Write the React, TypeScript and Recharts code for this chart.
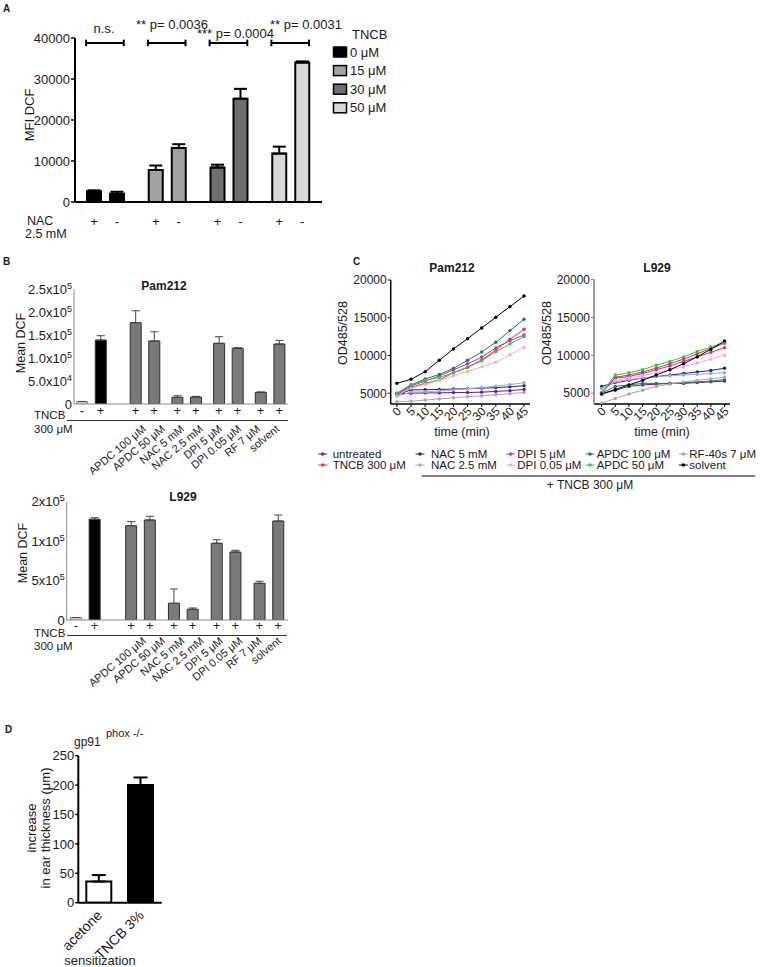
import React from 'react';
import { BarChart, Bar, XAxis, YAxis, ErrorBar, Cell, LabelList, ReferenceLine, LineChart, Line } from 'recharts';

const FONT = '"Liberation Sans", Arial, Helvetica, sans-serif';
const INK = '#1a1a1a';

// ---------------- Panel A ----------------
const aConcs = ['0 μM', '15 μM', '30 μM', '50 μM'];
const aNacPlus = [2600, 7800, 8400, 11800];
const aNacPlusErr = [250, 1100, 700, 1700];
const aNacMinus = [2000, 13200, 25200, 34000];
const aNacMinusErr = [500, 900, 2400, 300];
const aSigns = ['+', '-'];
const aPLabels = ['n.s.', '** p= 0.0036', '*** p= 0.0004', '** p= 0.0031'];
const aYTicks = [0, 10000, 20000, 30000, 40000];
const aFill = ['#000000', '#a2a2a2', '#6f6f6f', '#d8d8d8'];

// ---------------- Panel B ----------------
const bConditions = ['untreated', 'TNCB 300 μM', 'APDC 100 μM', 'APDC 50 μM', 'NAC 5 mM', 'NAC 2.5 mM', 'DPI 5 μM', 'DPI 0.05 μM', 'RF 7 μM', 'solvent'];
const bSigns = ['-', '+', '+', '+', '+', '+', '+', '+', '+', '+'];
const bAxisNames = ['APDC 100 μM', 'APDC 50 μM', 'NAC 5 mM', 'NAC 2.5 mM', 'DPI 5 μM', 'DPI 0.05 μM', 'RF 7 μM', 'solvent'];
const bPamMean = [5000, 139000, 176700, 137000, 14500, 15200, 131900, 121000, 25400, 130400];
const bPamErr = [600, 9500, 26000, 20000, 3500, 1500, 14400, 1500, 700, 8000];
const bPamTicks = [0, 50000, 100000, 150000, 200000, 250000];
const bPamTickLabels = ['0', '5.0x10^4', '1.0x10^5', '1.5x10^5', '2.0x10^5', '2.5x10^5'];
const bL929Mean = [3000, 127700, 119600, 126800, 21200, 13600, 97300, 86200, 46500, 125500];
const bL929Err = [0, 2000, 5100, 4700, 18100, 1600, 4500, 2200, 2600, 7600];
const bL929Ticks = [0, 50000, 100000, 150000];
const bL929TickLabels = ['0', '5x10^5', '1x10^5', '2x10^5'];

// ---------------- Panel C ----------------
const cTimes = [0, 5, 10, 15, 20, 25, 30, 35, 40, 45];
const pamUntreated = [4900, 5000, 5050, 5050, 5100, 5100, 5150, 5250, 5350, 5500];
const pamTncb = [4900, 5800, 6320, 6760, 7730, 8440, 9400, 10730, 12150, 13470];
const pamNac5 = [4800, 5440, 5480, 5500, 5560, 5620, 5680, 5750, 5850, 6000];
const pamNac25 = [4600, 5150, 5200, 5300, 5450, 5600, 5750, 5950, 6150, 6400];
const pamDpi5 = [4800, 6000, 6600, 7300, 8100, 8900, 9800, 11000, 11970, 12720];
const pamDpi005 = [4700, 5700, 6200, 6700, 7300, 7900, 8500, 9100, 10070, 11090];
const pamApdc100 = [5000, 6100, 6900, 7500, 8300, 9370, 10470, 11750, 13300, 14800];
const pamApdc50 = [5000, 6150, 6700, 7100, 7700, 8400, 9300, 10500, 11530, 12500];
const pamRf = [3900, 3950, 4100, 4250, 4400, 4550, 4650, 4800, 4950, 5100];
const pamSolvent = [6320, 6850, 7860, 9370, 10870, 12230, 13650, 15060, 16470, 17880];

const l929Untreated = [4900, 5400, 5900, 6100, 6200, 6300, 6300, 6400, 6500, 6600];
const l929Tncb = [5000, 7100, 7400, 7800, 8300, 8900, 9500, 10200, 10900, 11600];
const l929Nac5 = [5900, 6400, 6700, 7000, 7200, 7400, 7600, 7800, 8000, 8300];
const l929Nac25 = [5600, 6500, 6800, 7000, 7200, 7300, 7400, 7500, 7600, 7700];
const l929Dpi5 = [5000, 7000, 7200, 7600, 8100, 8600, 9200, 9800, 10400, 11000];
const l929Dpi005 = [5100, 6700, 7000, 7300, 7700, 8100, 8500, 9000, 9500, 10000];
const l929Apdc100 = [5000, 5900, 6100, 6300, 6300, 6300, 6400, 6500, 6600, 6800];
const l929Apdc50 = [5100, 7400, 7700, 8100, 8700, 9200, 9800, 10500, 11100, 11700];
const l929Rf = [3700, 4300, 4900, 5400, 5900, 6200, 6500, 6700, 6900, 7100];
const l929Solvent = [4900, 5500, 6100, 6700, 7400, 8100, 8900, 9800, 10800, 11900];
const cYTicks = [5000, 10000, 15000, 20000];

const cSeries = [
  { key: 'untreated', name: 'untreated', pam: pamUntreated, l929: l929Untreated },
  { key: 'tncb', name: 'TNCB 300 μM', pam: pamTncb, l929: l929Tncb },
  { key: 'nac5', name: 'NAC 5 mM', pam: pamNac5, l929: l929Nac5 },
  { key: 'nac25', name: 'NAC 2.5 mM', pam: pamNac25, l929: l929Nac25 },
  { key: 'dpi5', name: 'DPI 5 μM', pam: pamDpi5, l929: l929Dpi5 },
  { key: 'dpi005', name: 'DPI 0.05 μM', pam: pamDpi005, l929: l929Dpi005 },
  { key: 'apdc100', name: 'APDC 100 μM', pam: pamApdc100, l929: l929Apdc100 },
  { key: 'apdc50', name: 'APDC 50 μM', pam: pamApdc50, l929: l929Apdc50 },
  { key: 'rf', name: 'RF-40s 7 μM', pam: pamRf, l929: l929Rf },
  { key: 'solvent', name: 'solvent', pam: pamSolvent, l929: l929Solvent },
];
const cColors = {
  untreated: '#6a1b8a', tncb: '#e8302f', nac5: '#1c2a80', nac25: '#9aa6f2', dpi5: '#c42ac4',
  dpi005: '#f5a9d9', apdc100: '#1f7a5c', apdc50: '#2ec83c', rf: '#a8a8a8', solvent: '#000000',
};

// ---------------- Panel D ----------------
const dGroups = ['acetone', 'TNCB 3%'];
const dMeans = [36, 200];
const dErrs = [11, 13];
const dYTicks = [0, 50, 100, 150, 200, 250];

// ---------------- tables ----------------
const aData = aConcs.map((c, i) => ({
  conc: c,
  gx: i + 0.5,
  plus: aNacPlus[i], plusErr: [0, aNacPlusErr[i]], plusSign: aSigns[0],
  minus: aNacMinus[i], minusErr: [0, aNacMinusErr[i]], minusSign: aSigns[1],
}));

const pairPositions = (n, within, pair, extra) =>
  Array.from({ length: n }, (_, i) => {
    const p = Math.floor(i / 2);
    return p * pair + (i % 2) * within + (p > 0 ? extra : 0);
  });
const pamPos = pairPositions(bConditions.length, 18.6, 41.7, 11.8);
const l929Pos = pairPositions(bConditions.length, 18.7, 42.8, 12.4);

const bPamData = bConditions.map((c, i) => ({ cond: c, pos: pamPos[i], mean: bPamMean[i], err: [0, bPamErr[i]] }));
const bL929Data = bConditions.map((c, i) => ({ cond: c, pos: l929Pos[i], mean: bL929Mean[i], err: [0, bL929Err[i]] }));

const buildC = (which) => cTimes.map((t, i) => {
  const row = { t };
  cSeries.forEach((s) => { row[s.key] = s[which][i]; });
  return row;
});
const cPamData = buildC('pam');
const cL929Data = buildC('l929');

const dData = dGroups.map((g, i) => ({ group: g, mean: dMeans[i], err: [0, dErrs[i]] }));

// ---------------- helpers ----------------
const signLabel = (props) => {
  const vb = props.viewBox && typeof props.viewBox.width === 'number' ? props.viewBox : props;
  const cx = vb.x + vb.width / 2;
  const bottom = vb.y + vb.height;
  return (
    <text x={cx} y={bottom + 24} textAnchor="middle" fontSize={13} fill={INK} fontFamily={FONT}>
      {props.value}
    </text>
  );
};

const sciTick = (ticks, labels) => (props) => {
  const { x, y, payload } = props;
  const idx = ticks.indexOf(payload.value);
  const s = idx >= 0 ? labels[idx] : String(payload.value);
  const [base, exp] = s.split('^');
  return (
    <text x={x} y={y + 4.5} textAnchor="end" fontSize={13} fill={INK} fontFamily={FONT}>
      {base}
      {exp ? <tspan dy={-5} fontSize={9}>{exp}</tspan> : null}
    </text>
  );
};

const signTick = (positions, signs, dy) => (props) => {
  const { x, y, payload } = props;
  const idx = positions.findIndex((p) => Math.abs(p - payload.value) < 1e-6);
  return (
    <text x={x} y={y + dy} textAnchor="middle" fontSize={13} fill={INK} fontFamily={FONT}>
      {idx >= 0 ? signs[idx] : ''}
    </text>
  );
};

const rotTick = (dx, dy, size) => (props) => {
  const { x, y, payload } = props;
  const ax = x + dx;
  const ay = y + dy;
  return (
    <text x={ax} y={ay} textAnchor="end" fontSize={size} fill={INK} fontFamily={FONT} transform={`rotate(-45 ${ax} ${ay})`}>
      {payload.value}
    </text>
  );
};

// ---------------- charts ----------------
const BR_Y = 38800;
const BR_T = 800;
const bracketLines = [];
aConcs.forEach((_, g) => {
  const x1 = g + 0.18;
  const x2 = g + 0.79;
  bracketLines.push(
    <ReferenceLine key={`h${g}`} xAxisId="n" segment={[{ x: x1, y: BR_Y }, { x: x2, y: BR_Y }]} stroke="#000" strokeWidth={2} />,
    <ReferenceLine key={`l${g}`} xAxisId="n" segment={[{ x: x1, y: BR_Y - BR_T }, { x: x1, y: BR_Y + BR_T }]} stroke="#000" strokeWidth={2} />,
    <ReferenceLine key={`r${g}`} xAxisId="n" segment={[{ x: x2, y: BR_Y - BR_T }, { x: x2, y: BR_Y + BR_T }]} stroke="#000" strokeWidth={2} />
  );
});

function ChartA() {
  return (
    <BarChart width={340} height={245} data={aData} margin={{ top: 38, right: 18, bottom: 0, left: 0 }} barGap={9} barCategoryGap={0}>
      <XAxis dataKey="conc" tick={false} tickLine={false} axisLine={{ stroke: '#000', strokeWidth: 2 }} height={43} />
      <XAxis xAxisId="n" dataKey="gx" type="number" domain={[0, 4]} allowDataOverflow hide />
      <YAxis domain={[0, 40000]} ticks={aYTicks} interval={0} allowDataOverflow width={75} tickSize={4} tickMargin={1}
        axisLine={{ stroke: '#000', strokeWidth: 2 }} tickLine={{ stroke: '#000', strokeWidth: 1.5 }}
        tick={{ fontSize: 13, fill: INK, fontFamily: FONT }} />
      <Bar dataKey="plus" barSize={14} stroke="#000" strokeWidth={2} isAnimationActive={false}>
        {aData.map((d, i) => <Cell key={i} fill={aFill[i]} />)}
        <ErrorBar dataKey="plusErr" width={6.5} stroke="#000" strokeWidth={2} direction="y" />
        <LabelList dataKey="plusSign" content={signLabel} />
      </Bar>
      <Bar dataKey="minus" barSize={14} stroke="#000" strokeWidth={2} isAnimationActive={false}>
        {aData.map((d, i) => <Cell key={i} fill={aFill[i]} />)}
        <ErrorBar dataKey="minusErr" width={6.5} stroke="#000" strokeWidth={2} direction="y" />
        <LabelList dataKey="minusSign" content={signLabel} />
      </Bar>
      {bracketLines}
    </BarChart>
  );
}

function ChartB({ data, positions, domain, ticks, tickLabels, yMax, yAxisW, top, height, signDy }) {
  return (
    <BarChart width={300} height={height} data={data} margin={{ top, right: 12, bottom: height - top - (yMax) - 60, left: 0 }}>
      <XAxis type="number" dataKey="pos" domain={domain} allowDataOverflow ticks={positions} interval={0}
        tickSize={0} tickMargin={0} tickLine={false} axisLine={{ stroke: '#8a8a8a', strokeWidth: 1 }} height={60}
        tick={signTick(positions, bSigns, signDy)} />
      <YAxis domain={[0, ticks[ticks.length - 1]]} ticks={ticks} interval={0} allowDataOverflow width={yAxisW}
        tickSize={0} tickMargin={2} tickLine={false} axisLine={{ stroke: '#8a8a8a', strokeWidth: 1 }}
        tick={sciTick(ticks, tickLabels)} />
      <Bar dataKey="mean" barSize={11} stroke="#2e2e2e" strokeWidth={1} isAnimationActive={false}>
        {data.map((d, i) => (
          <Cell key={i} fill={i === 0 ? '#ffffff' : i === 1 ? '#000000' : '#7a7a7a'} stroke={i === 0 ? '#777' : '#2e2e2e'} />
        ))}
        <ErrorBar dataKey="err" width={4} stroke="#444" strokeWidth={1} direction="y" />
      </Bar>
    </BarChart>
  );
}

function ChartC({ data, width, yAxisW, top, domainX, yAxisColor }) {
  return (
    <LineChart width={width} height={200} data={data} margin={{ top, right: 10, bottom: 6, left: 0 }}>
      <XAxis type="number" dataKey="t" domain={domainX} allowDataOverflow ticks={cTimes} interval={0}
        tickSize={3} tickMargin={2} height={200 - top - 6 - (404 - 250 - top)}
        axisLine={{ stroke: '#000', strokeWidth: 1.5 }} tickLine={{ stroke: '#000', strokeWidth: 1 }}
        tick={rotTick(5, 3, 12)} />
      <YAxis domain={[3580, 20000]} ticks={cYTicks} interval={0} allowDataOverflow width={yAxisW}
        tickSize={3} tickMargin={1} axisLine={{ stroke: yAxisColor, strokeWidth: 1.5 }} tickLine={{ stroke: yAxisColor, strokeWidth: 1 }}
        tick={{ fontSize: 12, fill: INK, fontFamily: FONT }} />
      {cSeries.map((s) => (
        <Line key={s.key} dataKey={s.key} name={s.name} stroke={cColors[s.key]} strokeWidth={1}
          dot={{ r: 1.7, fill: cColors[s.key], stroke: cColors[s.key], strokeWidth: 0 }}
          isAnimationActive={false} />
      ))}
    </LineChart>
  );
}

function ChartD() {
  return (
    <BarChart width={200} height={267} data={dData} margin={{ top: 55.7, right: 38.3, bottom: 4, left: 0 }}>
      <XAxis dataKey="group" interval={0} tickLine={false} tickSize={0} tickMargin={0} height={60.3}
        axisLine={{ stroke: '#000', strokeWidth: 2 }} tick={rotTick(4, 13.5, 14)} />
      <YAxis domain={[0, 250]} ticks={dYTicks} interval={0} allowDataOverflow width={78.3} tickSize={3} tickMargin={1}
        axisLine={{ stroke: '#000', strokeWidth: 2 }} tickLine={{ stroke: '#000', strokeWidth: 1.5 }}
        tick={{ fontSize: 13, fill: INK, fontFamily: FONT }} />
      <Bar dataKey="mean" barSize={25} stroke="#000" strokeWidth={2} isAnimationActive={false}>
        {dData.map((d, i) => <Cell key={i} fill={i === 0 ? '#ffffff' : '#000000'} />)}
        <ErrorBar dataKey="err" width={7} stroke="#000" strokeWidth={2} direction="y" />
      </Bar>
    </BarChart>
  );
}

// ---------------- overlay text ----------------
const legendColX = [322.7, 420, 510.7, 590, 683.3];
const legendTextX = [332.7, 431, 517.3, 596.7, 689.3];

function Overlay() {
  const T = (p) => <text fontFamily={FONT} fill={INK} {...p} />;
  const rotLabel = (x, y, s, key, size = 13) => (
    <T key={key} x={x} y={y} fontSize={size} textAnchor="middle" dominantBaseline="central" transform={`rotate(-90 ${x} ${y})`}>{s}</T>
  );
  const condLabels = (x0, step, yb, prefix) => bAxisNames.map((s, i) => {
    const x = x0 + i * step;
    return (
      <T key={prefix + i} x={x} y={yb} fontSize={11} textAnchor="end" transform={`rotate(-40 ${x} ${yb})`}>{s}</T>
    );
  });
  return (
    <svg width={766} height={967} style={{ position: 'absolute', left: 0, top: 0, pointerEvents: 'none' }}>
      {/* panel letters */}
      <T x={3} y={12} fontSize={10} fontWeight="bold">A</T>
      <T x={3} y={265} fontSize={10} fontWeight="bold">B</T>
      <T x={353} y={265} fontSize={10} fontWeight="bold">C</T>
      <T x={5} y={733} fontSize={10} fontWeight="bold">D</T>

      {/* Panel A */}
      {rotLabel(29, 115, 'MFI DCF', 'amfi')}
      <T x={104} y={33} fontSize={13} textAnchor="middle">{aPLabels[0]}</T>
      <T x={136} y={29} fontSize={13}>{aPLabels[1]}</T>
      <T x={197} y={38} fontSize={13}>{aPLabels[2]}</T>
      <T x={270} y={29} fontSize={13}>{aPLabels[3]}</T>
      <T x={27} y={225} fontSize={12.5}>NAC</T>
      <T x={25} y={237.5} fontSize={12.5}>2.5 mM</T>
      <T x={352} y={39} fontSize={13}>TNCB</T>
      {aConcs.map((c, i) => {
        const cy = 52 + i * 18.6;
        return (
          <g key={'al' + i}>
            <rect x={333.5} y={cy - 5} width={13} height={10} fill={aFill[i]} stroke="#000" strokeWidth={1.5} />
            <T x={350} y={cy + 4.5} fontSize={13}>{c}</T>
          </g>
        );
      })}

      {/* Panel B Pam212 */}
      <T x={164} y={290} fontSize={12} fontWeight="bold" textAnchor="middle">Pam212</T>
      {rotLabel(20.7, 343, 'Mean DCF', 'bm1', 12.5)}
      <T x={34} y={419} fontSize={11.5}>TNCB</T>
      <T x={34} y={433} fontSize={11.5}>300 μM</T>
      <line x1={67} x2={288} y1={420.5} y2={420.5} stroke="#333" strokeWidth={1} />
      {condLabels(146.7, 19.05, 430, 'p')}

      {/* Panel B L929 */}
      <T x={183} y={500.5} fontSize={12} fontWeight="bold" textAnchor="middle">L929</T>
      {rotLabel(22.7, 553, 'Mean DCF', 'bm2', 12.5)}
      <T x={34} y={637} fontSize={11.5}>TNCB</T>
      <T x={34} y={650} fontSize={11.5}>300 μM</T>
      <line x1={67} x2={287} y1={635.5} y2={635.5} stroke="#333" strokeWidth={1} />
      {condLabels(146.7, 19.3, 642, 'l')}

      {/* Panel C */}
      <T x={452} y={272} fontSize={12} fontWeight="bold" textAnchor="middle">Pam212</T>
      <T x={657} y={272} fontSize={12} fontWeight="bold" textAnchor="middle">L929</T>
      {rotLabel(342.7, 333, 'OD485/528', 'c1', 12.5)}
      {rotLabel(546.7, 333, 'OD485/528', 'c2', 12.5)}
      <T x={462} y={436} fontSize={12.5} textAnchor="middle">time (min)</T>
      <T x={662} y={436} fontSize={12.5} textAnchor="middle">time (min)</T>
      {cSeries.map((s, i) => {
        const col = Math.floor(i / 2);
        const row = i % 2;
        const yb = 458 + row * 11;
        const mx = legendColX[col];
        const color = cColors[s.key];
        return (
          <g key={'cl' + i}>
            <line x1={mx - 4.5} x2={mx + 4.5} y1={yb - 4} y2={yb - 4} stroke={color} strokeWidth={1} />
            <circle cx={mx} cy={yb - 4} r={1.7} fill={color} />
            <T x={legendTextX[col]} y={yb} fontSize={11.5}>{s.name}</T>
          </g>
        );
      })}
      <line x1={421.7} x2={755} y1={476} y2={476} stroke="#000" strokeWidth={1} />
      <T x={590} y={489} fontSize={12} textAnchor="middle">+ TNCB 300 μM</T>

      {/* Panel D */}
      <T x={74} y={746} fontSize={12}>gp91</T>
      <T x={106} y={737} fontSize={11}>phox -/-</T>
      {rotLabel(31.7, 828, 'increase', 'd1', 13)}
      {rotLabel(45, 828, 'in ear thickness (μm)', 'd2', 13)}
      <T x={100} y={965} fontSize={13} textAnchor="middle">sensitization</T>
    </svg>
  );
}

export default function App() {
  return (
    <div style={{ position: 'absolute', left: 0, top: 0, width: 766, height: 967, background: '#fff', overflow: 'hidden', fontFamily: FONT }}>
      <div style={{ position: 'absolute', left: 0, top: 0 }}><ChartA /></div>
      <div style={{ position: 'absolute', left: 0, top: 260 }}>
        <ChartB data={bPamData} positions={pamPos} domain={[-8, 206]} ticks={bPamTicks} tickLabels={bPamTickLabels}
          yMax={115} yAxisW={74} top={29} height={225} signDy={10.5} />
      </div>
      <div style={{ position: 'absolute', left: 0, top: 480 }}>
        <ChartB data={bL929Data} positions={l929Pos} domain={[-9.1, 212.2]} ticks={bL929Ticks} tickLabels={bL929TickLabels}
          yMax={118.3} yAxisW={66.7} top={21.7} height={230} signDy={9.5} />
      </div>
      <div style={{ position: 'absolute', left: 300, top: 250 }}>
        <ChartC data={cPamData} width={240} yAxisW={90.7} top={30} domainX={[-2.2, 47.1]} yAxisColor="#000" />
      </div>
      <div style={{ position: 'absolute', left: 480, top: 250 }}>
        <ChartC data={cL929Data} width={260} yAxisW={114} top={29.5} domainX={[-2.8, 47]} yAxisColor="#808080" />
      </div>
      <div style={{ position: 'absolute', left: 0, top: 700 }}><ChartD /></div>
      <Overlay />
    </div>
  );
}
